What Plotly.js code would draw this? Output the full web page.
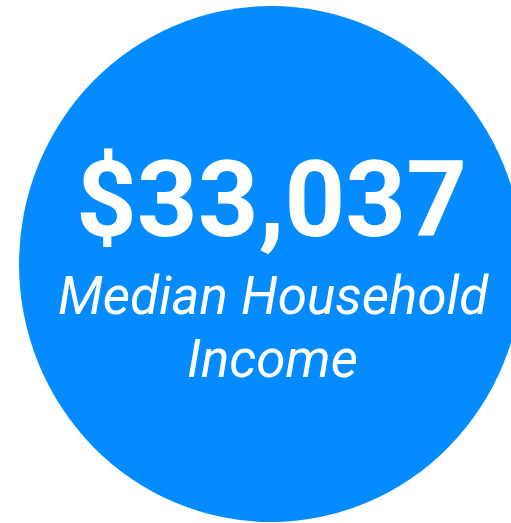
<!DOCTYPE html>
<html>
<head>
<meta charset="utf-8">
<script src="https://cdn.plot.ly/plotly-3.0.1.min.js"></script>
<style>html,body{margin:0;padding:0;background:#fff;overflow:hidden}#chart{width:511px;height:523px}</style>
</head>
<body>
<div id="chart"></div>
<script>
// Chart content
const valueLabel = ["$33,037"];
const captionLines = ["Median Household", "Income"];
const circleColor = ["#038BFF"];

const W = 511, H = 523;

const annotations = [
  {
    x: 271.5, y: 200, xref: 'x', yref: 'y', text: '<b>' + valueLabel[0] + '</b>',
    showarrow: false, xanchor: 'center', yanchor: 'middle',
    font: {family: 'Roboto', size: 106, color: '#ffffff'}
  },
  {
    x: 273, y: 296, xref: 'x', yref: 'y', text: '<i>' + captionLines[0] + '</i>',
    showarrow: false, xanchor: 'center', yanchor: 'middle',
    font: {family: 'Roboto', size: 53, color: '#ffffff'}
  },
  {
    x: 272, y: 359, xref: 'x', yref: 'y', text: '<i>' + captionLines[1] + '</i>',
    showarrow: false, xanchor: 'center', yanchor: 'middle',
    font: {family: 'Roboto', size: 53, color: '#ffffff'}
  }
];

const layout = {
  width: W, height: H,
  margin: {l: 0, r: 0, t: 0, b: 0, pad: 0},
  paper_bgcolor: '#ffffff', plot_bgcolor: '#ffffff',
  showlegend: false,
  xaxis: {range: [0, W], visible: false, fixedrange: true},
  yaxis: {range: [H, 0], visible: false, fixedrange: true},
  shapes: [{
    type: 'circle', xref: 'x', yref: 'y',
    x0: 19, x1: 523, y0: 6, y1: 522,
    fillcolor: circleColor[0], line: {width: 0}, layer: 'below'
  }],
  annotations: annotations
};

Plotly.newPlot('chart', [], layout, {displayModeBar: false, staticPlot: true});
</script>
</body>
</html>
